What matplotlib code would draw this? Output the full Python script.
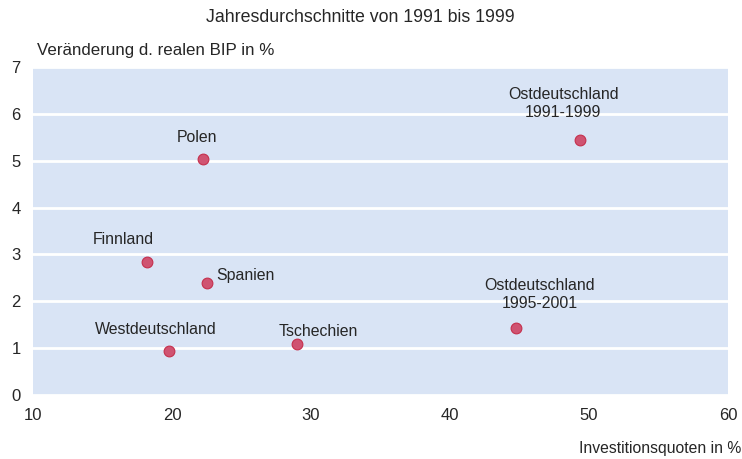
import matplotlib

matplotlib.use("Agg")
import matplotlib.pyplot as plt

plt.rcParams["font.family"] = ["Liberation Sans", "DejaVu Sans"]

labels = [
    "Polen",
    "Ostdeutschland\n1991-1999",
    "Finnland",
    "Spanien",
    "Westdeutschland",
    "Tschechien",
    "Ostdeutschland\n1995-2001",
]
invest = [22.2, 49.35, 18.2, 22.5, 19.8, 29.0, 44.75]
bip = [5.03, 5.45, 2.84, 2.38, 0.93, 1.09, 1.42]
x_ticks = [10, 20, 30, 40, 50, 60]
y_ticks = [0, 1, 2, 3, 4, 5, 6, 7]

# label placement (offset points, horizontal alignment)
label_offsets = [(-4, 16), (-12, 26), (-17, 16.5), (7, 6), (-10, 16), (15, 9), (17, 24.5)]
label_ha = ["center", "center", "center", "left", "center", "center", "center"]

fig = plt.figure(figsize=(7.42, 4.59), dpi=100)
ax = fig.add_axes([0.0445, 0.1394, 0.9365, 0.7146])
ax.set_facecolor("#d9e4f5")
for s in ax.spines.values():
    s.set_visible(False)

ax.scatter(invest, bip, s=60, color="#cf4b6a", edgecolor="#c42a48",
           linewidth=0.8, alpha=0.95, zorder=3)

for lab, x, y, off, ha in zip(labels, invest, bip, label_offsets, label_ha):
    ax.annotate(lab, (x, y), xytext=off, textcoords="offset points",
                ha=ha, va="center", fontsize=11.4, color="#262626",
                linespacing=1.25, zorder=4)

ax.set_xlim(10, 60)
ax.set_ylim(0, 7)
ax.set_xticks(x_ticks)
ax.set_yticks(y_ticks)
ax.tick_params(length=0, labelsize=12, colors="#262626", pad=9)
ax.yaxis.grid(True, color="white", linewidth=2)
ax.set_axisbelow(True)

fig.text(0.485, 0.962, "Jahresdurchschnitte von 1991 bis 1999", ha="center",
         va="center", fontsize=12.8, color="#262626")
fig.text(0.05, 0.889, "Veränderung d. realen BIP in %", ha="left",
         va="center", fontsize=12.2, color="#262626")
fig.text(0.999, 0.022, "Investitionsquoten in %", ha="right",
         va="center", fontsize=11.3, color="#262626")

fig.savefig("out.png", dpi=100)
